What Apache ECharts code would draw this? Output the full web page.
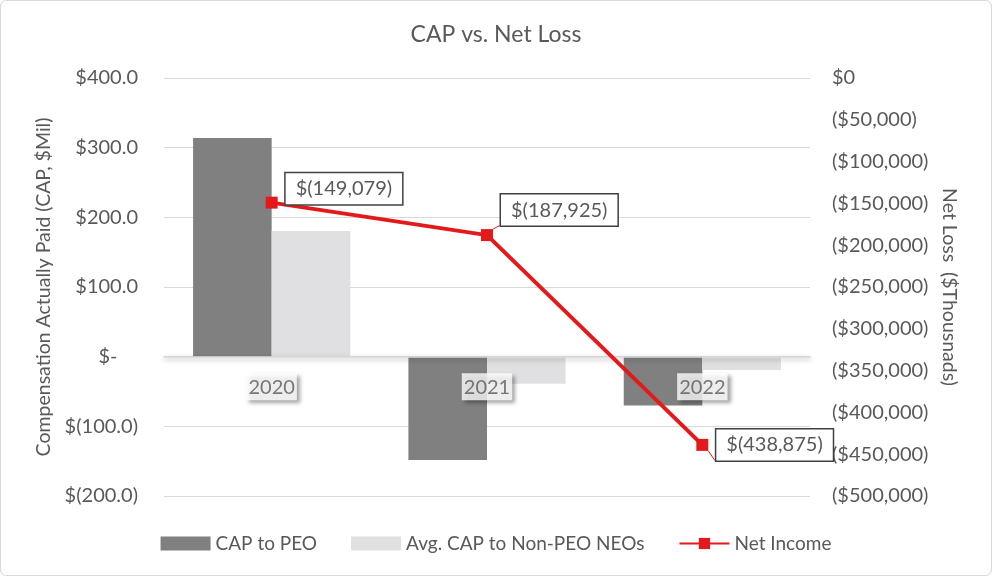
<!DOCTYPE html>
<html>
<head>
<meta charset="utf-8">
<script src="https://cdn.jsdelivr.net/npm/echarts@6/dist/echarts.min.js"></script>
<style>
html,body{margin:0;padding:0;background:#fff;}
#c{width:992px;height:576px;box-sizing:border-box;border:1px solid #d9d9d9;border-radius:6px;}
</style>
</head>
<body>
<div id="c"></div>
<script>
const categories = ['2020', '2021', '2022'];
const capToPEO = [314, -148.5, -70];
const avgCapNonPEO = [180.5, -39, -19];
const netIncome = [-149079, -187925, -438875];
const leftTicks = {min: -200, max: 400, interval: 100};
const rightTicks = {min: -500000, max: 0, interval: 50000};
const labelOffsets = [[0, -14], [0, -25], [0, 0]];

const FONT = 'Lato';
const TXT = '#595959';

function fmtLeft(v) {
  if (v === 0) return '$-    ';
  if (v < 0) return '$(' + Math.abs(v).toFixed(1) + ')';
  return '$' + v.toFixed(1);
}
function fmtRight(v) {
  if (v === 0) return '$0';
  const s = Math.abs(v).toLocaleString('en-US');
  return v < 0 ? '($' + s + ')' : '$' + s;
}
function fmtPoint(v) {
  const s = Math.abs(v).toLocaleString('en-US');
  return v < 0 ? '$(' + s + ')' : '$' + s;
}

const chart = echarts.init(document.getElementById('c'));
chart.setOption({
  animation: false,
  textStyle: {fontFamily: FONT},
  title: {
    text: 'CAP vs. Net Loss',
    left: 'center',
    top: 17,
    textStyle: {fontFamily: FONT, fontSize: 23, fontWeight: 'normal', color: TXT}
  },
  legend: {
    bottom: 17,
    left: 'center',
    itemGap: 34,
    itemWidth: 50,
    itemHeight: 14,
    textStyle: {fontFamily: FONT, fontSize: 19, color: TXT},
    data: [
      {name: 'CAP to PEO', icon: 'rect'},
      {name: 'Avg. CAP to Non-PEO NEOs', icon: 'rect'},
      {name: 'Net Income'}
    ]
  },
  grid: {left: 163, right: 181, top: 77, bottom: 79, containLabel: false},
  xAxis: [{
    type: 'category',
    data: categories,
    axisTick: {show: false},
    axisLine: {
      onZero: true,
      onZeroAxisIndex: 0,
      lineStyle: {color: '#d9d9d9', width: 1.5, shadowColor: 'rgba(0,0,0,0.35)', shadowBlur: 5, shadowOffsetY: 2}
    },
    axisLabel: {show: false},
    z: 5
  }],
  yAxis: [{
    type: 'value',
    min: leftTicks.min,
    max: leftTicks.max,
    interval: leftTicks.interval,
    name: 'Compensation Actually Paid (CAP, $Mil)',
    nameLocation: 'middle',
    nameGap: 105,
    nameRotate: 90,
    nameTextStyle: {fontFamily: FONT, fontSize: 19.5, color: TXT},
    axisLine: {show: false},
    axisTick: {show: false},
    axisLabel: {margin: 26, fontFamily: FONT, fontSize: 20, color: TXT, formatter: fmtLeft},
    splitLine: {lineStyle: {color: '#d9d9d9', width: 1}}
  }, {
    type: 'value',
    position: 'right',
    min: rightTicks.min,
    max: rightTicks.max,
    interval: rightTicks.interval,
    name: 'Net Loss  ($Thousnads)',
    nameLocation: 'middle',
    nameGap: 124,
    nameRotate: -90,
    nameTextStyle: {fontFamily: FONT, fontSize: 19.5, color: TXT},
    axisLine: {show: false},
    axisTick: {show: false},
    axisLabel: {margin: 22, fontFamily: FONT, fontSize: 20, color: TXT, formatter: fmtRight},
    splitLine: {show: false}
  }],
  series: [{
    name: 'CAP to PEO',
    type: 'bar',
    data: capToPEO,
    barGap: '0%',
    barCategoryGap: '27%',
    itemStyle: {color: '#808080'},
    z: 2
  }, {
    name: 'Avg. CAP to Non-PEO NEOs',
    type: 'bar',
    data: avgCapNonPEO,
    itemStyle: {color: '#e0e0e2'},
    z: 2
  }, {
    name: 'Net Income',
    type: 'line',
    yAxisIndex: 1,
    data: netIncome.map((v, i) => ({
      value: v,
      label: {offset: labelOffsets[i]}
    })),
    symbol: 'rect',
    symbolSize: 12,
    lineStyle: {color: '#e31a1c', width: 4},
    itemStyle: {color: '#e31a1c'},
    label: {
      show: true,
      position: 'right',
      distance: 8,
      formatter: p => fmtPoint(p.value),
      fontFamily: FONT,
      fontSize: 20,
      color: TXT,
      backgroundColor: '#fff',
      borderColor: '#404040',
      borderWidth: 1.5,
      padding: [6, 10, 5, 10]
    },
    labelLine: {show: true, lineStyle: {color: '#e31a1c', width: 1}},
    z: 10
  }, {
    name: 'categoryLabels',
    type: 'scatter',
    data: categories.map(c => [c, 0]),
    symbolSize: 1,
    itemStyle: {color: 'rgba(0,0,0,0)'},
    silent: true,
    legendHoverLink: false,
    label: {
      show: true,
      position: 'bottom',
      distance: 16,
      formatter: p => p.value[0],
      fontFamily: FONT,
      fontSize: 20,
      color: TXT,
      backgroundColor: '#fff',
      padding: [4, 2, 3, 2],
      shadowColor: 'rgba(0,0,0,0.45)',
      shadowBlur: 4,
      shadowOffsetX: 3,
      shadowOffsetY: 3
    },
    z: 6
  }]
});
</script>
</body>
</html>
